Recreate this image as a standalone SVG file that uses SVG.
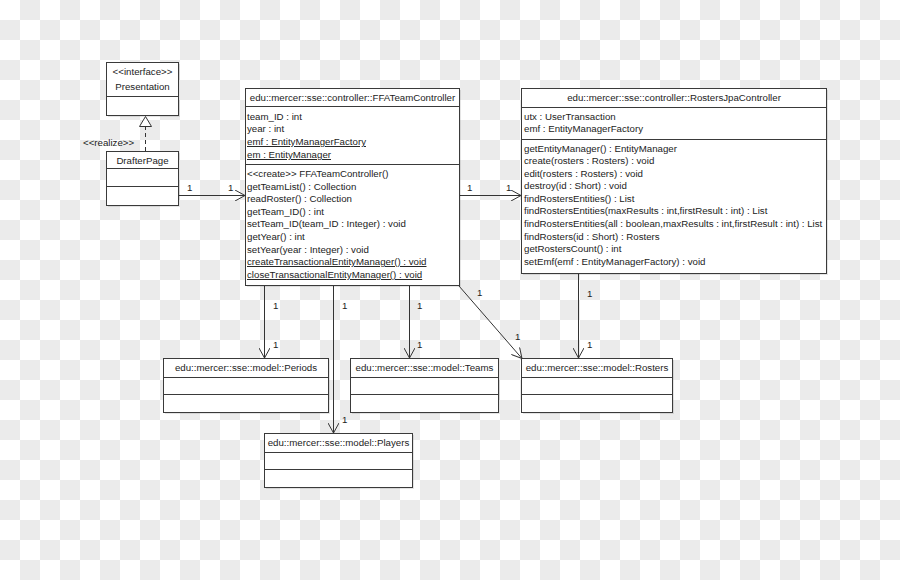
<svg xmlns="http://www.w3.org/2000/svg" width="900" height="580" viewBox="0 0 900 580">
<defs>
<pattern id="checker" x="0" y="0" width="40" height="40" patternUnits="userSpaceOnUse">
<rect x="0" y="0" width="40" height="40" fill="#ffffff"/>
<rect x="20" y="0" width="20" height="20" fill="#ebebeb"/>
<rect x="0" y="20" width="20" height="20" fill="#ebebeb"/>
</pattern>
<marker id="open" viewBox="0 0 10 11" refX="10" refY="5.5" markerWidth="10" markerHeight="11" markerUnits="userSpaceOnUse" orient="auto">
<path d="M0,0 L10,5.5 L0,11" fill="none" stroke="#333" stroke-width="1"/>
</marker>
<marker id="realize" viewBox="0 0 11 13" refX="10.5" refY="6.5" markerWidth="11" markerHeight="13" markerUnits="userSpaceOnUse" orient="auto">
<path d="M0.5,0.5 L10.5,6.5 L0.5,12.5 Z" fill="#fff" stroke="#333" stroke-width="1"/>
</marker>
</defs>
<style>
.box{fill:#fff;stroke:#3a3a3a;stroke-width:1}
.shd{fill:#000;fill-opacity:0.10}
.div{stroke:#3a3a3a;stroke-width:1}
text{font-family:"Liberation Sans",Arial,sans-serif;font-size:9.7px;fill:#222}
.c{text-anchor:middle}
.u{text-decoration:underline}
.con{fill:none;stroke:#333;stroke-width:1}
.dash{stroke-dasharray:4,3}
</style>
<rect x="0" y="0" width="900" height="580" fill="url(#checker)"/>

<g id="connectors">
<path class="con" d="M179,195.5 H245" marker-end="url(#open)"/>
<path class="con dash" d="M145.5,151 V116.5" marker-end="url(#realize)"/>
<path class="con" d="M459,195.5 H521" marker-end="url(#open)"/>
<path class="con" d="M264.5,286 V358" marker-end="url(#open)"/>
<path class="con" d="M333.5,286 V433" marker-end="url(#open)"/>
<path class="con" d="M409.5,286 V358" marker-end="url(#open)"/>
<path class="con" d="M459,286 L522,358.5" marker-end="url(#open)"/>
<path class="con" d="M578.5,274 V358" marker-end="url(#open)"/>
<text x="83" y="146">&lt;&lt;realize&gt;&gt;</text>
<text x="187" y="191">1</text>
<text x="228" y="191">1</text>
<text x="467" y="191">1</text>
<text x="506" y="191">1</text>
<text x="273" y="309">1</text>
<text x="273" y="348">1</text>
<text x="342" y="309">1</text>
<text x="342" y="423">1</text>
<text x="417" y="309">1</text>
<text x="417" y="348">1</text>
<text x="477" y="296">1</text>
<text x="515" y="340">1</text>
<text x="587" y="297">1</text>
<text x="587" y="348">1</text>
</g>

<g id="presentation">
<rect class="shd" x="108" y="64" width="72" height="53"/>
<rect class="box" x="106.5" y="62.5" width="72" height="53"/>
<line class="div" x1="106.5" y1="96.5" x2="178.5" y2="96.5"/>
<text class="c" x="142.5" y="75">&lt;&lt;interface&gt;&gt;</text>
<text class="c" x="142.5" y="90">Presentation</text>
</g>

<g id="drafterpage">
<rect class="shd" x="108" y="153" width="72" height="54"/>
<rect class="box" x="106.5" y="151.5" width="72" height="54"/>
<line class="div" x1="106.5" y1="168.5" x2="178.5" y2="168.5"/>
<line class="div" x1="106.5" y1="186.5" x2="178.5" y2="186.5"/>
<text class="c" x="142.5" y="164">DrafterPage</text>
</g>

<g id="ffateamcontroller">
<rect class="shd" x="247" y="90" width="214" height="197"/>
<rect class="box" x="245.5" y="88.5" width="214" height="197"/>
<line class="div" x1="245.5" y1="106.5" x2="459.5" y2="106.5"/>
<line class="div" x1="245.5" y1="164.5" x2="459.5" y2="164.5"/>
<text class="c" x="352.5" y="101">edu::mercer::sse::controller::FFATeamController</text>
<text x="247" y="120">team_ID : int</text>
<text x="247" y="132">year : int</text>
<text class="u" x="247" y="145">emf : EntityManagerFactory</text>
<text class="u" x="247" y="158">em : EntityManager</text>
<text x="247" y="177">&lt;&lt;create&gt;&gt; FFATeamController()</text>
<text x="247" y="190">getTeamList() : Collection</text>
<text x="247" y="202">readRoster() : Collection</text>
<text x="247" y="215">getTeam_ID() : int</text>
<text x="247" y="227">setTeam_ID(team_ID : Integer) : void</text>
<text x="247" y="240">getYear() : int</text>
<text x="247" y="253">setYear(year : Integer) : void</text>
<text class="u" x="247" y="265">createTransactionalEntityManager() : void</text>
<text class="u" x="247" y="278">closeTransactionalEntityManager() : void</text>
</g>

<g id="rostersjpacontroller">
<rect class="shd" x="523" y="90" width="305" height="185"/>
<rect class="box" x="521.5" y="88.5" width="305" height="185"/>
<line class="div" x1="521.5" y1="107.5" x2="826.5" y2="107.5"/>
<line class="div" x1="521.5" y1="139.5" x2="826.5" y2="139.5"/>
<text class="c" x="674" y="101">edu::mercer::sse::controller::RostersJpaController</text>
<text x="524" y="120">utx : UserTransaction</text>
<text x="524" y="132">emf : EntityManagerFactory</text>
<text x="524" y="152">getEntityManager() : EntityManager</text>
<text x="524" y="164">create(rosters : Rosters) : void</text>
<text x="524" y="177">edit(rosters : Rosters) : void</text>
<text x="524" y="189">destroy(id : Short) : void</text>
<text x="524" y="202">findRostersEntities() : List</text>
<text x="524" y="214">findRostersEntities(maxResults : int,firstResult : int) : List</text>
<text x="524" y="227">findRostersEntities(all : boolean,maxResults : int,firstResult : int) : List</text>
<text x="524" y="240">findRosters(id : Short) : Rosters</text>
<text x="524" y="252">getRostersCount() : int</text>
<text x="524" y="265">setEmf(emf : EntityManagerFactory) : void</text>
</g>

<g id="periods">
<rect class="shd" x="165" y="360" width="165" height="54"/>
<rect class="box" x="163.5" y="358.5" width="165" height="54"/>
<line class="div" x1="163.5" y1="377.5" x2="328.5" y2="377.5"/>
<line class="div" x1="163.5" y1="394.5" x2="328.5" y2="394.5"/>
<text class="c" x="246" y="371">edu::mercer::sse::model::Periods</text>
</g>

<g id="teams">
<rect class="shd" x="352" y="360" width="148" height="54"/>
<rect class="box" x="350.5" y="358.5" width="148" height="54"/>
<line class="div" x1="350.5" y1="377.5" x2="498.5" y2="377.5"/>
<line class="div" x1="350.5" y1="394.5" x2="498.5" y2="394.5"/>
<text class="c" x="424.5" y="371">edu::mercer::sse::model::Teams</text>
</g>

<g id="rosters">
<rect class="shd" x="523" y="360" width="151" height="54"/>
<rect class="box" x="521.5" y="358.5" width="151" height="54"/>
<line class="div" x1="521.5" y1="377.5" x2="672.5" y2="377.5"/>
<line class="div" x1="521.5" y1="394.5" x2="672.5" y2="394.5"/>
<text class="c" x="597" y="371">edu::mercer::sse::model::Rosters</text>
</g>

<g id="players">
<rect class="shd" x="266" y="435" width="148" height="54"/>
<rect class="box" x="264.5" y="433.5" width="148" height="54"/>
<line class="div" x1="264.5" y1="452.5" x2="412.5" y2="452.5"/>
<line class="div" x1="264.5" y1="469.5" x2="412.5" y2="469.5"/>
<text class="c" x="338.5" y="446">edu::mercer::sse::model::Players</text>
</g>
</svg>
